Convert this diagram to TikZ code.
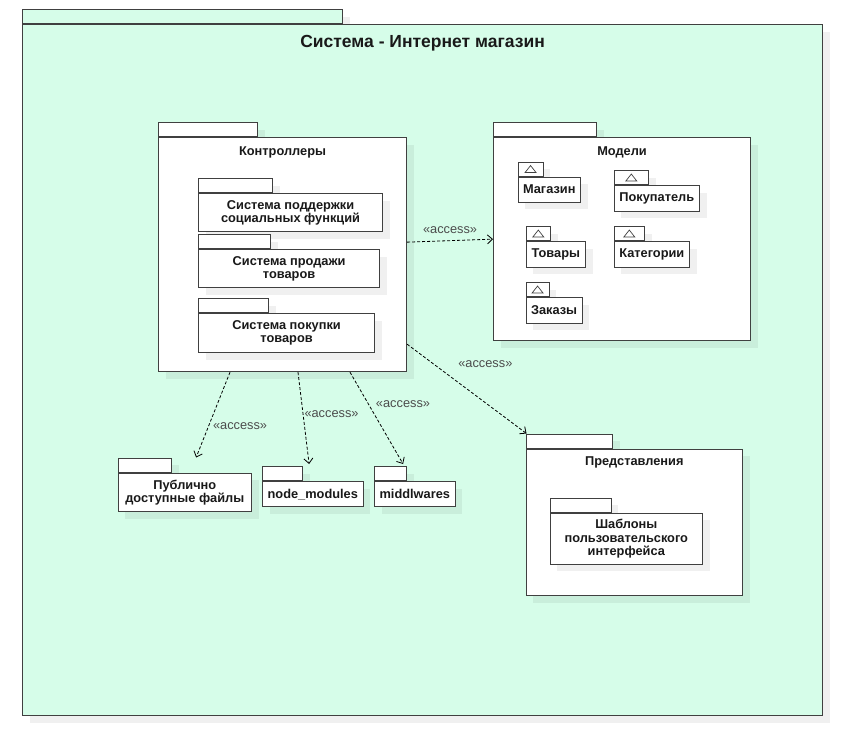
\documentclass[tikz,border=0pt]{standalone}
\usepackage{fontspec}
\setmainfont{Liberation Sans}
\usetikzlibrary{positioning,shadows,arrows.meta}
\definecolor{mint}{HTML}{D6FDE9}
\definecolor{edge}{HTML}{404040}

\begin{document}
\begin{tikzpicture}[x=1pt, y=-1pt,
	shade/.style={drop shadow={shadow xshift=7pt, shadow yshift=-7pt,
	fill=black, opacity=0.06}},
	tab/.style={rectangle, draw=edge, line width=1.1pt, fill=white, shade,
	minimum height=14pt, inner sep=0pt, anchor=north west},
	pkg/.style={rectangle, draw=edge, line width=1.1pt, fill=white, shade,
	inner sep=0pt, align=center, text=black!90,
	font=\bfseries\fontsize{12.8}{13.3}\selectfont},
	modtab/.style={tab, path picture={\draw[edge, line width=0.7pt]
	([xshift=-5.5pt,yshift=-3.5pt]path picture bounding box.center) --
	([yshift=3.5pt]path picture bounding box.center) --
	([xshift=5.5pt,yshift=-3.5pt]path picture bounding box.center) -- cycle;}},
	ptitle/.style={inner sep=0pt, text=black!90,
	font=\bfseries\fontsize{12.8}{13.3}\selectfont},
	access/.style={draw=black, line width=0.8pt, dash pattern=on 3pt off 2pt,
	-{Straight Barb[length=5pt,width=9pt]}},
	acc/.style={inner sep=1pt, text=black!70, font=\fontsize{12.8}{14}\selectfont}
	]
	\useasboundingbox (0,0) rectangle (856,741);

	% system
	\node[tab, fill=mint, minimum width=320pt] (systab) at (22,9) {};
	\node[pkg, fill=mint, minimum width=800pt, minimum height=691pt,
	below right=0pt and 0pt of systab.south west] (sys) {};
	\node[ptitle, font=\bfseries\fontsize{17.5}{20}\selectfont,
	below=11pt of sys.north] (systitle) {Система - Интернет магазин};

	% controllers
	\node[tab, minimum width=99pt] (ctrltab) at (158,122) {};
	\node[pkg, minimum width=248pt, minimum height=234pt,
	below right=0pt and 0pt of ctrltab.south west] (ctrl) {};
	\node[ptitle, below=9pt of ctrl.north] (ctrltitle) {Контроллеры};

	\node[tab, minimum width=74pt] (soctab) at (198,178) {};
	\node[pkg, minimum width=184pt, minimum height=38pt,
	below right=0pt and 0pt of soctab.south west] (soc)
	{Система поддержки\\социальных функций};
	\node[tab, minimum width=72pt] (saletab) at (198,234) {};
	\node[pkg, minimum width=181pt, minimum height=38pt,
	below right=0pt and 0pt of saletab.south west] (sale)
	{Система продажи\\товаров};
	\node[tab, minimum width=70pt] (buytab) at (198,298) {};
	\node[pkg, minimum width=176pt, minimum height=39pt,
	below right=0pt and 0pt of buytab.south west] (buy)
	{Система покупки\\товаров};

	% models
	\node[tab, minimum width=103pt] (modtab) at (493,122) {};
	\node[pkg, minimum width=257pt, minimum height=203pt,
	below right=0pt and 0pt of modtab.south west] (models) {};
	\node[ptitle, below=9pt of models.north] (modtitle) {Модели};

	\node[modtab, minimum width=25pt] (shoptab) at (517.5,161.5) {};
	\node[pkg, minimum width=62.5pt, minimum height=25pt,
	below right=0pt and 0pt of shoptab.south west] (shop) {Магазин};
	\node[modtab, minimum width=34.5pt] (custtab) at (613.5,170) {};
	\node[pkg, minimum width=85.5pt, minimum height=25.5pt,
	below right=0pt and 0pt of custtab.south west] (cust) {Покупатель};
	\node[modtab, minimum width=24.5pt] (goodstab) at (525.5,226) {};
	\node[pkg, minimum width=59.5pt, minimum height=25.5pt,
	below right=0pt and 0pt of goodstab.south west] (goods) {Товары};
	\node[modtab, minimum width=30.5pt] (cattab) at (613.5,226) {};
	\node[pkg, minimum width=75.5pt, minimum height=25.5pt,
	below right=0pt and 0pt of cattab.south west] (cat) {Категории};
	\node[modtab, minimum width=23pt] (ordtab) at (525.5,282) {};
	\node[pkg, minimum width=56pt, minimum height=25.5pt,
	below right=0pt and 0pt of ordtab.south west] (orders) {Заказы};

	% views
	\node[tab, minimum width=86.5pt] (viewtab) at (525.5,433.5) {};
	\node[pkg, minimum width=216.5pt, minimum height=146.5pt,
	below right=0pt and 0pt of viewtab.south west] (views) {};
	\node[ptitle, below=8pt of views.north] (viewtitle) {Представления};
	\node[tab, minimum width=61pt] (tmpltab) at (549.5,497.5) {};
	\node[pkg, minimum width=152.5pt, minimum height=51pt,
	below right=0pt and 0pt of tmpltab.south west] (tmpl)
	{Шаблоны\\пользовательского\\интерфейса};

	% bottom packages
	\node[tab, minimum width=53.5pt] (pubtab) at (117.5,457.5) {};
	\node[pkg, minimum width=133.5pt, minimum height=38.5pt,
	below right=0pt and 0pt of pubtab.south west] (public)
	{Публично\\доступные файлы};
	\node[tab, minimum width=40pt] (nmtab) at (262,466) {};
	\node[pkg, minimum width=100.5pt, minimum height=25pt,
	below right=0pt and 0pt of nmtab.south west] (nm) {node\_modules};
	\node[tab, minimum width=32pt] (mwtab) at (374,466) {};
	\node[pkg, minimum width=80.5pt, minimum height=25pt,
	below right=0pt and 0pt of mwtab.south west] (mw) {middlwares};

	% access
	\draw[access] ([yshift=12.5pt]ctrl.east) to
	node[acc, pos=0.5, above=6pt] {«access»} (models.west);
	\draw[access] ([yshift=28pt]ctrl.south east) to
	node[acc, pos=0.3, anchor=south west, xshift=14pt, yshift=2pt] {«access»}
	([xshift=1pt]viewtab.north west);
	\draw[access] ([xshift=72pt]ctrl.south west) to
	node[acc, pos=0.63, right=3pt] {«access»} ([xshift=24pt]pubtab.north east);
	\draw[access] ([xshift=140pt]ctrl.south west) to
	node[acc, pos=0.46, right=0pt] {«access»} ([xshift=6pt,yshift=2pt]nmtab.north east);
	\draw[access] ([xshift=192pt]ctrl.south west) to
	node[acc, pos=0.35, right=6pt] {«access»} ([xshift=-4pt,yshift=2pt]mwtab.north east);
\end{tikzpicture}
\end{document}
